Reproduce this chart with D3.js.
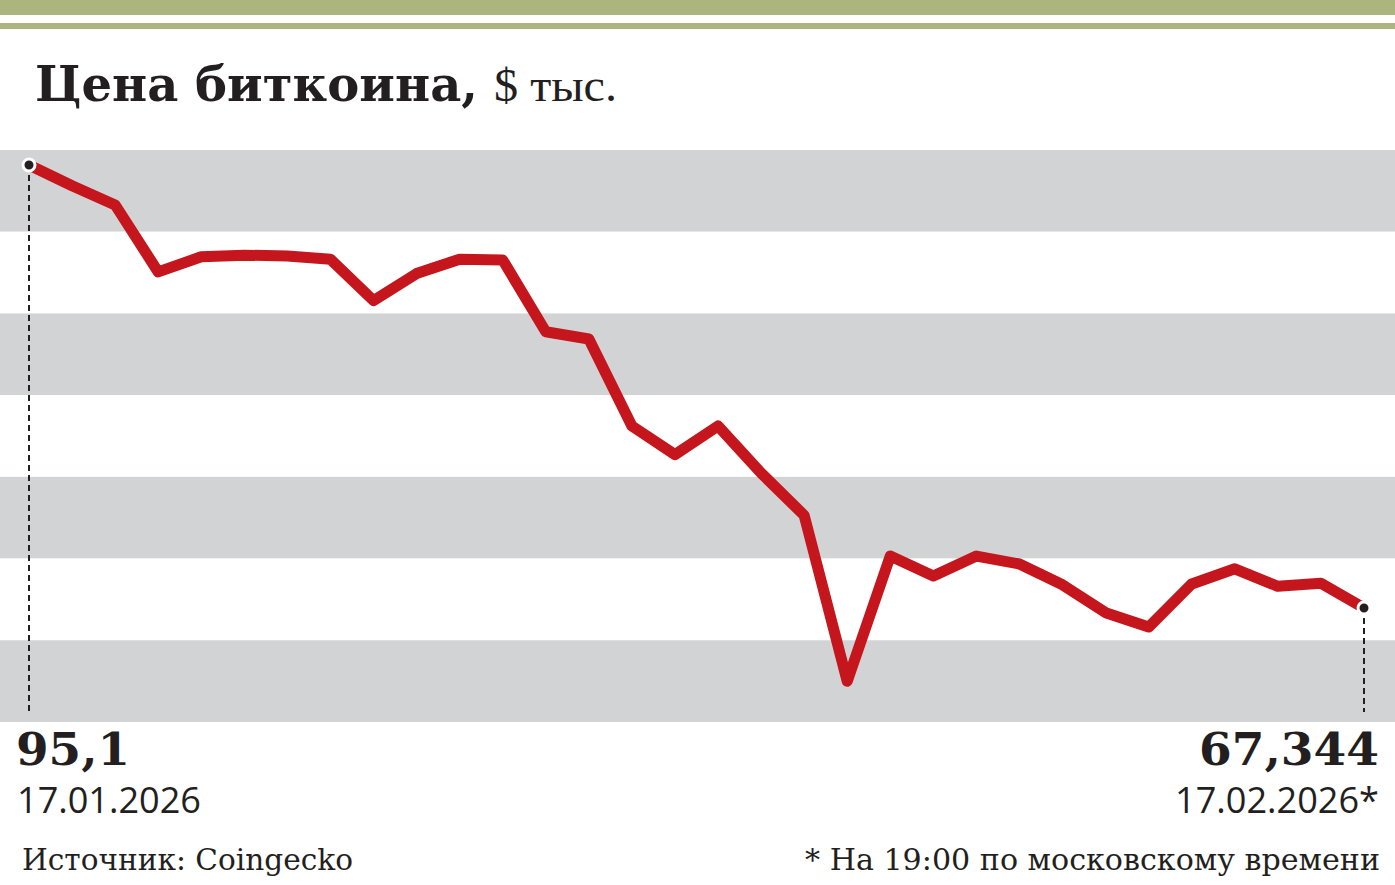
<!DOCTYPE html>
<html>
<head>
<meta charset="utf-8">
<script src="https://cdn.jsdelivr.net/npm/d3@7"></script>
<style>
  html, body { margin: 0; padding: 0; background: #fff; }
  svg { display: block; }
</style>
</head>
<body>
<svg id="chart" width="1395" height="885"></svg>
<script>
// ---- data ----
const dates = [
  "17.01.2026","18.01.2026","19.01.2026","20.01.2026","21.01.2026","22.01.2026","23.01.2026","24.01.2026",
  "25.01.2026","26.01.2026","27.01.2026","28.01.2026","29.01.2026","30.01.2026","31.01.2026","01.02.2026",
  "02.02.2026","03.02.2026","04.02.2026","05.02.2026","06.02.2026","07.02.2026","08.02.2026","09.02.2026",
  "10.02.2026","11.02.2026","12.02.2026","13.02.2026","14.02.2026","15.02.2026","16.02.2026","17.02.2026"
];
const prices = [
  95.1, 93.8, 92.6, 88.4, 89.35, 89.45, 89.4, 89.2,
  86.6, 88.3, 89.2, 89.15, 84.65, 84.2, 78.75, 76.95,
  78.75, 75.8, 73.15, 62.75, 70.6, 69.35, 70.6, 70.1,
  68.8, 67.05, 66.15, 68.85, 69.8, 68.7, 68.9, 67.344
];
const firstLabel = "95,1";
const lastLabel = "67,344";
const firstDate = "17.01.2026";
const lastDate = "17.02.2026*";
const titleBold = "Цена биткоина,";
const titleUnit = "$ тыс.";
const sourceText = "Источник: Coingecko";
const noteText = "* На 19:00 по московскому времени";

// ---- layout ----
const svg = d3.select("#chart");
const W = 1395;
const ink = "#231f20";
const green = "#adb57f";
const grey = "#d1d3d4";
const red = "#c4161c";

svg.append("rect").attr("x", 0).attr("y", 0).attr("width", W).attr("height", 15).attr("fill", green);
svg.append("rect").attr("x", 0).attr("y", 23).attr("width", W).attr("height", 6).attr("fill", green);

// title
svg.append("text").attr("x", 35).attr("y", 101).text(titleBold)
  .attr("fill", ink)
  .attr("font-family", "'DejaVu Serif'").attr("font-weight", "bold")
  .attr("font-size", 48).attr("textLength", 443).attr("lengthAdjust", "spacingAndGlyphs");
svg.append("text").attr("x", 494).attr("y", 101).text(titleUnit)
  .attr("font-family", "'Liberation Serif'")
  .attr("font-size", 46).attr("fill", ink)
  .attr("textLength", 123).attr("lengthAdjust", "spacingAndGlyphs");

// bands
const bandTop = 150, bandBottom = 722, nBands = 7;
const bandScale = d3.scaleBand().domain(d3.range(nBands)).range([bandTop, bandBottom]);
svg.append("g").selectAll("rect").data(d3.range(nBands)).join("rect")
  .attr("x", 0).attr("width", W)
  .attr("y", d => bandScale(d)).attr("height", bandScale.bandwidth())
  .attr("fill", d => d % 2 === 0 ? grey : "#ffffff");

// scales
const x = d3.scalePoint().domain(dates).range([29, 1364]);
const y = d3.scaleLinear().domain([67.344, 95.1]).range([608, 165]);

// dashed guides
const ends = [0, prices.length - 1];
svg.append("g").selectAll("line").data(ends).join("line")
  .attr("x1", i => x(dates[i])).attr("x2", i => x(dates[i]))
  .attr("y1", i => y(prices[i])).attr("y2", 712)
  .attr("stroke", ink).attr("stroke-width", 2).attr("stroke-dasharray", "6 4");

// line
const line = d3.line().x((d, i) => x(dates[i])).y(d => y(d));
svg.append("path").datum(prices)
  .attr("d", line).attr("fill", "none")
  .attr("stroke", red).attr("stroke-width", 11)
  .attr("stroke-linejoin", "round").attr("stroke-linecap", "butt");

// end dots
svg.append("g").selectAll("circle").data(ends).join("circle")
  .attr("cx", i => x(dates[i])).attr("cy", i => y(prices[i]))
  .attr("r", 6).attr("fill", ink).attr("stroke", "#fff").attr("stroke-width", 3);

// labels
const numFont = "'DejaVu Serif'";
svg.append("text").attr("x", 16).attr("y", 765).text(firstLabel)
  .attr("font-family", numFont).attr("font-weight", "bold").attr("font-size", 45).attr("fill", ink)
  .attr("textLength", 114).attr("lengthAdjust", "spacingAndGlyphs");
svg.append("text").attr("x", 1379).attr("y", 765).attr("text-anchor", "end").text(lastLabel)
  .attr("font-family", numFont).attr("font-weight", "bold").attr("font-size", 45).attr("fill", ink)
  .attr("textLength", 180).attr("lengthAdjust", "spacingAndGlyphs");

const regFont = "'Open Sans'";
svg.append("text").attr("x", 17).attr("y", 813).text(firstDate)
  .attr("font-family", regFont).attr("font-size", 37).attr("fill", ink)
  .attr("textLength", 184).attr("lengthAdjust", "spacingAndGlyphs");
svg.append("text").attr("x", 1379).attr("y", 813).attr("text-anchor", "end").text(lastDate)
  .attr("font-family", regFont).attr("font-size", 37).attr("fill", ink)
  .attr("textLength", 204).attr("lengthAdjust", "spacingAndGlyphs");

const footFont = "'DejaVu Serif'";
svg.append("text").attr("x", 22).attr("y", 870).text(sourceText)
  .attr("font-family", footFont).attr("font-size", 30).attr("fill", ink)
  .attr("textLength", 331).attr("lengthAdjust", "spacingAndGlyphs");
svg.append("text").attr("x", 1380).attr("y", 870).attr("text-anchor", "end").text(noteText)
  .attr("font-family", footFont).attr("font-size", 30).attr("fill", ink)
  .attr("textLength", 575).attr("lengthAdjust", "spacingAndGlyphs");
</script>
</body>
</html>
